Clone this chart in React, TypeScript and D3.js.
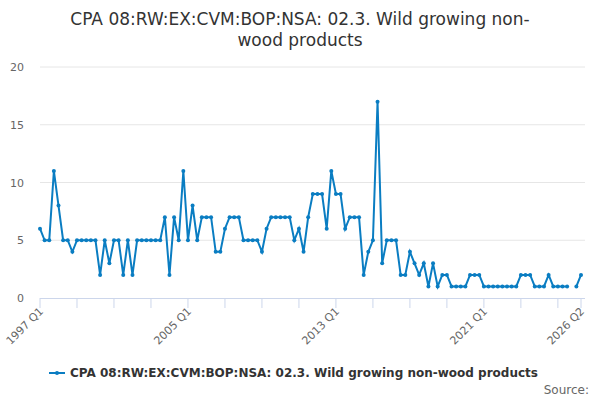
import * as d3 from "d3";

const years = d3.range(1997, 2027);
const quarters = ["Q1", "Q2", "Q3", "Q4"];
const periods: string[] = years.flatMap((y) => quarters.map((q) => `${y} ${q}`)).slice(0, 118);
const values: (number | null)[] = [
  6, 5, 5, 11, 8, 5, 5, 4, 5, 5, 5, 5, 5, 2, 5, 3, 5, 5, 2, 5, 2, 5, 5, 5, 5, 5, 5, 7,
  2, 7, 5, 11, 5, 8, 5, 7, 7, 7, 4, 4, 6, 7, 7, 7, 5, 5, 5, 5, 4, 6, 7, 7, 7, 7, 7, 5,
  6, 4, 7, 9, 9, 9, 6, 11, 9, 9, 6, 7, 7, 7, 2, 4, 5, 17, 3, 5, 5, 5, 2, 2, 4, 3, 2, 3,
  1, 3, 1, 2, 2, 1, 1, 1, 1, 2, 2, 2, 1, 1, 1, 1, 1, 1, 1, 1, 2, 2, 2, 1, 1, 1, 2, 1,
  1, 1, 1, null, 1, 2,
];
const yTicks = [0, 5, 10, 15, 20];
const labelPeriods = ["1997 Q1", "2005 Q1", "2013 Q1", "2021 Q1", "2026 Q2"];
const seriesName = "CPA 08:RW:EX:CVM:BOP:NSA: 02.3. Wild growing non-wood products";

const W = 600, H = 400;
const color = "#0a7dc2";
const font = "'DejaVu Sans', Verdana, sans-serif";

export default function App() {
  const x = d3.scaleLinear().domain([0, periods.length - 1]).range([40, 581]);
  const y = d3.scaleLinear().domain([0, 20]).range([298, 67]);
  const line = d3
    .line<number | null>()
    .defined((d) => d !== null)
    .x((_d, i) => x(i))
    .y((d) => y(d as number));
  const tickIdx = d3.range(0, periods.length, 8).concat([periods.length - 1]);

  return (
    <svg width={W} height={H} style={{ position: "absolute", left: 0, top: 0, fontFamily: font }}>
      <text x={W / 2} y={25} textAnchor="middle" fontSize={17} fill="#333">
        CPA 08:RW:EX:CVM:BOP:NSA: 02.3. Wild growing non-
      </text>
      <text x={W / 2} y={46} textAnchor="middle" fontSize={17} fill="#333">
        wood products
      </text>
      {yTicks.map((t) => (
        <g key={t}>
          {t > 0 && <line x1={40} x2={585} y1={y(t)} y2={y(t)} stroke="#e6e6e6" />}
          <text x={24} y={y(t) + 4} textAnchor="end" fontSize={11} fill="#666">
            {t}
          </text>
        </g>
      ))}
      <line x1={40} x2={585} y1={298.5} y2={298.5} stroke="#ccd6eb" />
      {tickIdx.map((i) => (
        <line key={i} x1={x(i)} x2={x(i)} y1={298} y2={308} stroke="#ccd6eb" />
      ))}
      {labelPeriods.map((p) => {
        const i = periods.indexOf(p);
        return (
          <text
            key={p}
            transform={`translate(${x(i) + 4},${312}) rotate(-45)`}
            textAnchor="end"
            fontSize={11}
            fill="#666"
          >
            {p}
          </text>
        );
      })}
      <path d={line(values) ?? ""} fill="none" stroke={color} strokeWidth={2} />
      {values.map((v, i) =>
        v === null ? null : <circle key={i} cx={x(i)} cy={y(v)} r={2} fill={color} />
      )}
      <line x1={49} x2={65} y1={373} y2={373} stroke={color} strokeWidth={2} />
      <circle cx={57} cy={373} r={2} fill={color} />
      <text x={70} y={377} fontSize={12} fontWeight="bold" fill="#333">
        {seriesName}
      </text>
      <text x={589} y={394} textAnchor="end" fontSize={12} fill="#666">
        Source:
      </text>
    </svg>
  );
}
